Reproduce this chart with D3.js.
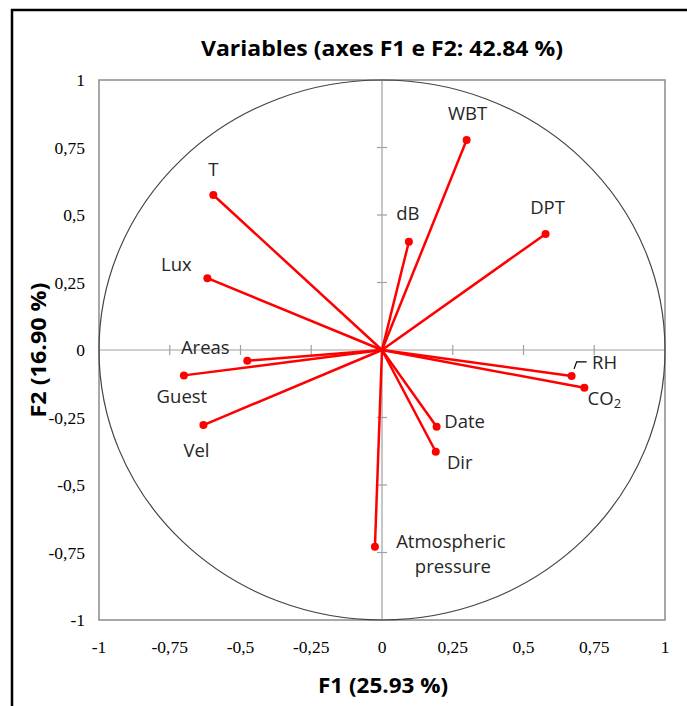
<!DOCTYPE html>
<meta charset="utf-8">
<style>
  body { margin: 0; background: #fff; overflow: hidden; }
  text { font-family: "Open Sans", sans-serif; }
</style>
<body>
<script src="https://cdn.jsdelivr.net/npm/d3@7"></script>
<script>
  // loadings
  var variables = ["WBT", "DPT", "dB", "T", "Lux", "Areas", "Guest", "Vel", "RH", "CO2", "Date", "Dir", "Atmospheric pressure"];
  var f1 = [0.299, 0.578, 0.095, -0.596, -0.617, -0.476, -0.700, -0.631, 0.670, 0.715, 0.193, 0.190, -0.025];
  var f2 = [0.778, 0.430, 0.401, 0.574, 0.266, -0.040, -0.094, -0.278, -0.096, -0.140, -0.284, -0.377, -0.729];
  var ticks = [-1, -0.75, -0.5, -0.25, 0, 0.25, 0.5, 0.75, 1];
  var tickLabels = ["-1", "-0,75", "-0,5", "-0,25", "0", "0,25", "0,5", "0,75", "1"];

  var width = 687, height = 706;

  // label placement relative to the point (pixels)
  var labelPos = {
    "WBT": [1, -27], "DPT": [2, -27], "dB": [-1, -29], "T": [0, -27],
    "Lux": [-31, -15], "Areas": [-42, -14], "Guest": [-2, 20], "Vel": [-7, 24],
    "RH": [33, -14], "CO2": [20, 10], "Date": [28, -6], "Dir": [24, 10],
    "Atmospheric pressure": [76, -7]
  };

  var x = d3.scaleLinear().domain([-1, 1]).range([99, 665]);
  var y = d3.scaleLinear().domain([-1, 1]).range([620, 80]);

  var svg = d3.select("body").append("svg")
    .attr("width", width)
    .attr("height", height);

  // outer frame (runs off the right and bottom edges)
  svg.append("rect")
    .attr("x", 12).attr("y", 10)
    .attr("width", 900).attr("height", 900)
    .style("fill", "none").style("stroke", "#000").style("stroke-width", 2.5);

  svg.append("text")
    .attr("x", 382).attr("y", 47)
    .attr("text-anchor", "middle").attr("dominant-baseline", "central")
    .style("font-weight", "bold").style("font-size", "22px")
    .attr("textLength", 362).attr("lengthAdjust", "spacingAndGlyphs")
    .text("Variables (axes F1 e F2: 42.84 %)");

  // plot box
  svg.append("rect")
    .attr("x", x(-1)).attr("y", y(1))
    .attr("width", x(1) - x(-1)).attr("height", y(-1) - y(1))
    .style("fill", "none").style("stroke", "#8c8c8c").style("stroke-width", 1.5);

  // zero axes with ticks
  svg.append("line")
    .attr("x1", x(-1)).attr("x2", x(1)).attr("y1", y(0)).attr("y2", y(0))
    .style("stroke", "#a0a0a0").style("stroke-width", 1.2);
  svg.append("line")
    .attr("x1", x(0)).attr("x2", x(0)).attr("y1", y(1)).attr("y2", y(-1))
    .style("stroke", "#a0a0a0").style("stroke-width", 1.2);

  var inner = ticks.filter(function(t) { return t !== 0 && Math.abs(t) !== 1; });
  svg.selectAll(".xt").data(inner).enter().append("line")
    .attr("x1", function(d) { return x(d); }).attr("x2", function(d) { return x(d); })
    .attr("y1", y(0) - 5).attr("y2", y(0) + 5)
    .style("stroke", "#a0a0a0").style("stroke-width", 1.2);
  svg.selectAll(".yt").data(inner).enter().append("line")
    .attr("y1", function(d) { return y(d); }).attr("y2", function(d) { return y(d); })
    .attr("x1", x(0) - 5).attr("x2", x(0) + 5)
    .style("stroke", "#a0a0a0").style("stroke-width", 1.2);

  // tick labels
  svg.selectAll(".xl").data(ticks).enter().append("text")
    .attr("x", function(d) { return x(d); }).attr("y", 647)
    .attr("text-anchor", "middle").attr("dominant-baseline", "central")
    .style("font-family", "'Liberation Serif', serif").style("font-size", "17.5px")
    .text(function(d, i) { return tickLabels[i]; });
  svg.selectAll(".yl").data(ticks).enter().append("text")
    .attr("x", 85).attr("y", function(d) { return y(d); })
    .attr("text-anchor", "end").attr("dominant-baseline", "central")
    .style("font-family", "'Liberation Serif', serif").style("font-size", "17.5px")
    .text(function(d, i) { return tickLabels[i]; });

  // unit circle
  svg.append("ellipse")
    .attr("cx", x(0)).attr("cy", y(0))
    .attr("rx", x(1) - x(0)).attr("ry", y(0) - y(1))
    .style("fill", "none").style("stroke", "#444").style("stroke-width", 1.2);

  // vectors
  var pts = variables.map(function(v, i) { return {name: v, a: f1[i], b: f2[i]}; });

  svg.selectAll(".vec").data(pts).enter().append("line")
    .attr("x1", x(0)).attr("y1", y(0))
    .attr("x2", function(d) { return x(d.a); })
    .attr("y2", function(d) { return y(d.b); })
    .style("stroke", "#ff0000").style("stroke-width", 2.5);

  svg.selectAll(".dot").data(pts).enter().append("circle")
    .attr("cx", function(d) { return x(d.a); })
    .attr("cy", function(d) { return y(d.b); })
    .attr("r", 4)
    .style("fill", "#ff0000");

  // RH leader line
  var rh = pts[8];
  svg.append("polyline")
    .attr("points", [[x(rh.a) + 2.5, y(rh.b) - 7], [x(rh.a) + 5, y(rh.b) - 14], [x(rh.a) + 15, y(rh.b) - 14]].join(" "))
    .style("fill", "none").style("stroke", "#000").style("stroke-width", 1.2);

  var labels = svg.selectAll(".lab").data(pts).enter().append("text")
    .attr("x", function(d) { return x(d.a) + labelPos[d.name][0]; })
    .attr("y", function(d) { return y(d.b) + labelPos[d.name][1]; })
    .attr("text-anchor", "middle").attr("dominant-baseline", "central")
    .style("font-size", "18.5px").style("fill", "#262626");

  labels.each(function(d) {
    var t = d3.select(this);
    if (d.name === "CO2") {
      t.text("CO");
      t.append("tspan").attr("dy", 5).style("font-size", "13px").text("2");
    } else if (d.name === "Atmospheric pressure") {
      t.append("tspan").attr("x", x(d.a) + 76).text("Atmospheric");
      t.append("tspan").attr("x", x(d.a) + 78).attr("dy", 25).text("pressure");
    } else {
      t.text(d.name);
    }
  });

  // axis titles
  svg.append("text")
    .attr("x", 383).attr("y", 684)
    .attr("text-anchor", "middle").attr("dominant-baseline", "central")
    .style("font-weight", "bold").style("font-size", "22px")
    .attr("textLength", 130).attr("lengthAdjust", "spacingAndGlyphs")
    .text("F1 (25.93 %)");
  svg.append("text")
    .attr("transform", "translate(37,350) rotate(-90)")
    .attr("text-anchor", "middle").attr("dominant-baseline", "central")
    .style("font-weight", "bold").style("font-size", "22px")
    .attr("textLength", 135).attr("lengthAdjust", "spacingAndGlyphs")
    .text("F2 (16.90 %)");
</script>
</body>
